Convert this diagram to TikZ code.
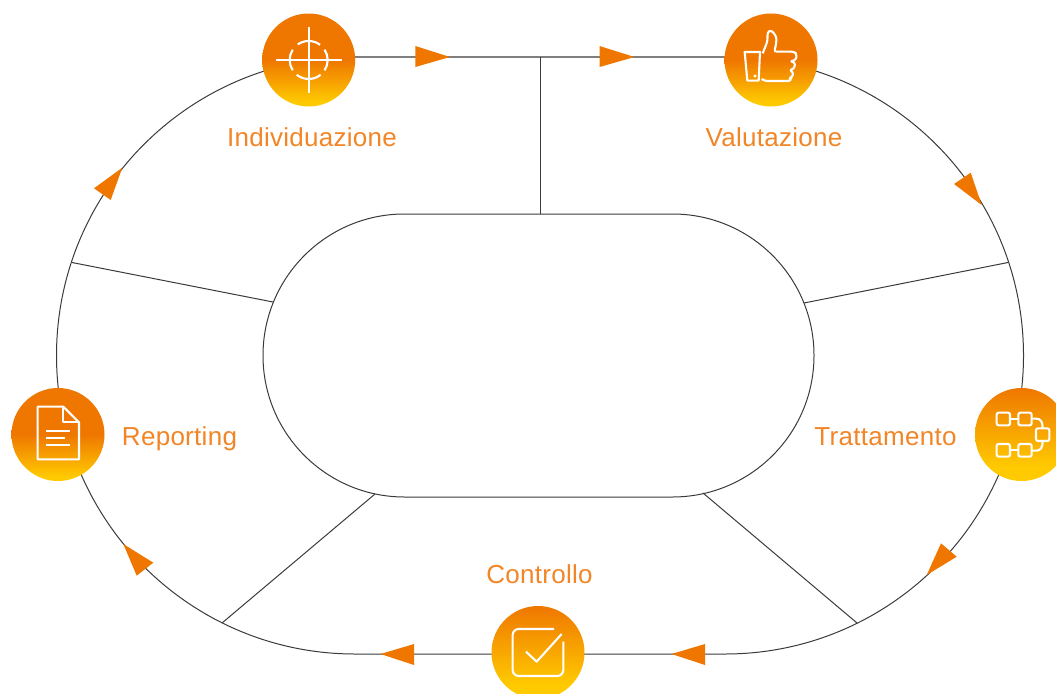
\documentclass[tikz,border=0pt]{standalone}
\usepackage{fontspec}
\setmainfont[LetterSpace=1.1]{Liberation Sans}
\definecolor{brand}{HTML}{EF7700}
\definecolor{brandtext}{HTML}{F28526}
\definecolor{sun}{HTML}{FFCB00}
\definecolor{wire}{HTML}{3A3A3A}
\pgfdeclareverticalshading{latefade}{100bp}{color(0bp)=(sun);color(25bp)=(sun);color(27bp)=(sun);color(50bp)=(brand);color(75bp)=(brand);color(100bp)=(brand)}
\pgfdeclareverticalshading{earlyfade}{100bp}{color(0bp)=(sun);color(25bp)=(sun);color(32bp)=(sun);color(75bp)=(brand);color(100bp)=(brand)}
\tikzset{
  wireline/.style={draw=wire,line width=1pt},
  head/.style={fill=brand,draw=none},
  badge/.style={circle,minimum size=93pt,inner sep=0pt,draw=none},
  late/.style={badge,shading=latefade},
  early/.style={badge,shading=earlyfade},
  caption/.style={text=brandtext,font=\fontsize{26}{30}\selectfont,inner sep=0pt,anchor=base},
  icon/.style={draw=white,line width=2.1pt,fill=none,line join=round},
}
\begin{document}
\begin{tikzpicture}[x=1pt,y=-1pt]
\useasboundingbox (0,0) rectangle (1056,693);
% named junctions
\coordinate (outerTop) at (540,57);
\coordinate (innerTop) at (540,214);
\coordinate (outerNE) at (1008,262.5);
\coordinate (innerNE) at (804,303);
\coordinate (outerSE) at (857,623);
\coordinate (innerSE) at (703,493);
\coordinate (outerSW) at (222,623);
\coordinate (innerSW) at (375,494);
\coordinate (outerNW) at (72,262.5);
\coordinate (innerNW) at (273,302);
% outer track
\draw[wireline] (355,57) -- (725,57) arc[start angle=90,end angle=-90,radius=298.5pt] -- (355,654) arc[start angle=-90,end angle=-270,radius=298.5pt];
% inner stadium
\draw[wireline] (404.5,214) -- (672.5,214) arc[start angle=90,end angle=-90,radius=141.5pt] -- (404.5,497) arc[start angle=-90,end angle=-270,radius=141.5pt];
% spokes
\draw[wireline] (outerTop) -- (innerTop);
\draw[wireline] (outerNE) -- (innerNE);
\draw[wireline] (outerSE) -- (innerSE);
\draw[wireline] (outerSW) -- (innerSW);
\draw[wireline] (outerNW) -- (innerNW);
% arrowheads
\fill[head] (415.3,46) -- (450,57) -- (415.3,67) -- cycle;
\fill[head] (599.5,46) -- (634.5,57) -- (599.5,67) -- cycle;
\fill[head] (954,184) -- (970.7,172.7) -- (981.7,205) -- cycle;
\fill[head] (941,543.3) -- (956.7,556.7) -- (926.7,575) -- cycle;
\fill[head] (705,644) -- (705,665) -- (671.5,654) -- cycle;
\fill[head] (414,644) -- (414,665) -- (380.5,654) -- cycle;
\fill[head] (123.3,544) -- (153.3,562.7) -- (136.7,575.7) -- cycle;
\fill[head] (122.3,167.7) -- (94,188.3) -- (110.7,200) -- cycle;
% badges
\node[late] (find) at (308.7,60) {};
\node[late] (rate) at (771,60) {};
\node[early] (treat) at (1021.5,434.5) {};
\node[early] (check) at (538,652.5) {};
\node[late] (report) at (58,434.5) {};
% captions
\node[caption] (findText) at (312,146.5) {Individuazione};
\node[caption] (rateText) at (774,146.5) {Valutazione};
\node[caption] (treatText) at (885.5,445) {Trattamento};
\node[caption] (checkText) at (539.5,583) {Controllo};
\node[caption] (reportText) at (179.5,445) {Reporting};
% target icon
\begin{scope}[shift={(250,0)},x=0.3333pt,y=-0.3333pt]
\draw[icon] (78,180) -- (275,180) (176,80) -- (176,278);
\draw[icon] (176,180) ++(53:19pt) arc[start angle=53,end angle=125,radius=19pt];
\draw[icon] (176,180) ++(33:19pt) arc[start angle=33,end angle=-33,radius=19pt];
\draw[icon] (176,180) ++(-51:19pt) arc[start angle=-51,end angle=-129,radius=19pt];
\draw[icon] (176,180) ++(147:19pt) arc[start angle=147,end angle=213,radius=19pt];
\end{scope}
% thumb icon
\begin{scope}[shift={(710,0)},x=0.3333pt,y=-0.3333pt]
\draw[icon] (104,156) -- (150,156) -- (146,242) -- (112,242) -- cycle;
\fill[white] (135,228) circle (1.7pt);
\draw[icon,rounded corners=2.5pt] (158,160) -- (172,125) -- (173,95) -- (185,91) -- (200,112) -- (197,140) -- (192,155) -- (252,155) -- (260,162) -- (258,180) -- (240,184) -- (256,188) -- (252,207) -- (238,210) -- (250,216) -- (247,232) -- (238,234) -- (243,243) -- (165,243) -- (155,237);
\end{scope}
% process icon
\begin{scope}[shift={(960,375)},x=0.3333pt,y=-0.3333pt]
\foreach \l/\t in {110/113,175/113,228/160,110/207,175/207}
  \draw[icon,rounded corners=2pt] (\l,\t) rectangle ++(40,38);
\draw[icon] (150,131) -- (175,131) (150,226) -- (175,226);
\draw[icon] (215,131) -- (228,131) .. controls (242,131) and (248,140) .. (248,160);
\draw[icon] (248,198) .. controls (248,218) and (242,227) .. (228,227) -- (215,227);
\end{scope}
% checkbox icon
\begin{scope}[shift={(480,595)},x=0.3333pt,y=-0.3333pt]
\draw[icon,rounded corners=6pt] (222,102) -- (98,102) -- (98,243) -- (250,243) -- (250,140);
\draw[icon] (138,170) -- (170,200) -- (245,117);
\end{scope}
% document icon
\begin{scope}[shift={(0,375)},x=0.3333pt,y=-0.3333pt]
\draw[icon] (113,95) -- (190,95) -- (237,142) -- (237,253) -- (113,253) -- cycle;
\draw[icon] (190,95) -- (190,142) -- (237,142);
\draw[icon] (138,167) -- (210,167) (138,188) -- (195,188) (138,210) -- (210,210);
\end{scope}
\end{tikzpicture}
\end{document}
